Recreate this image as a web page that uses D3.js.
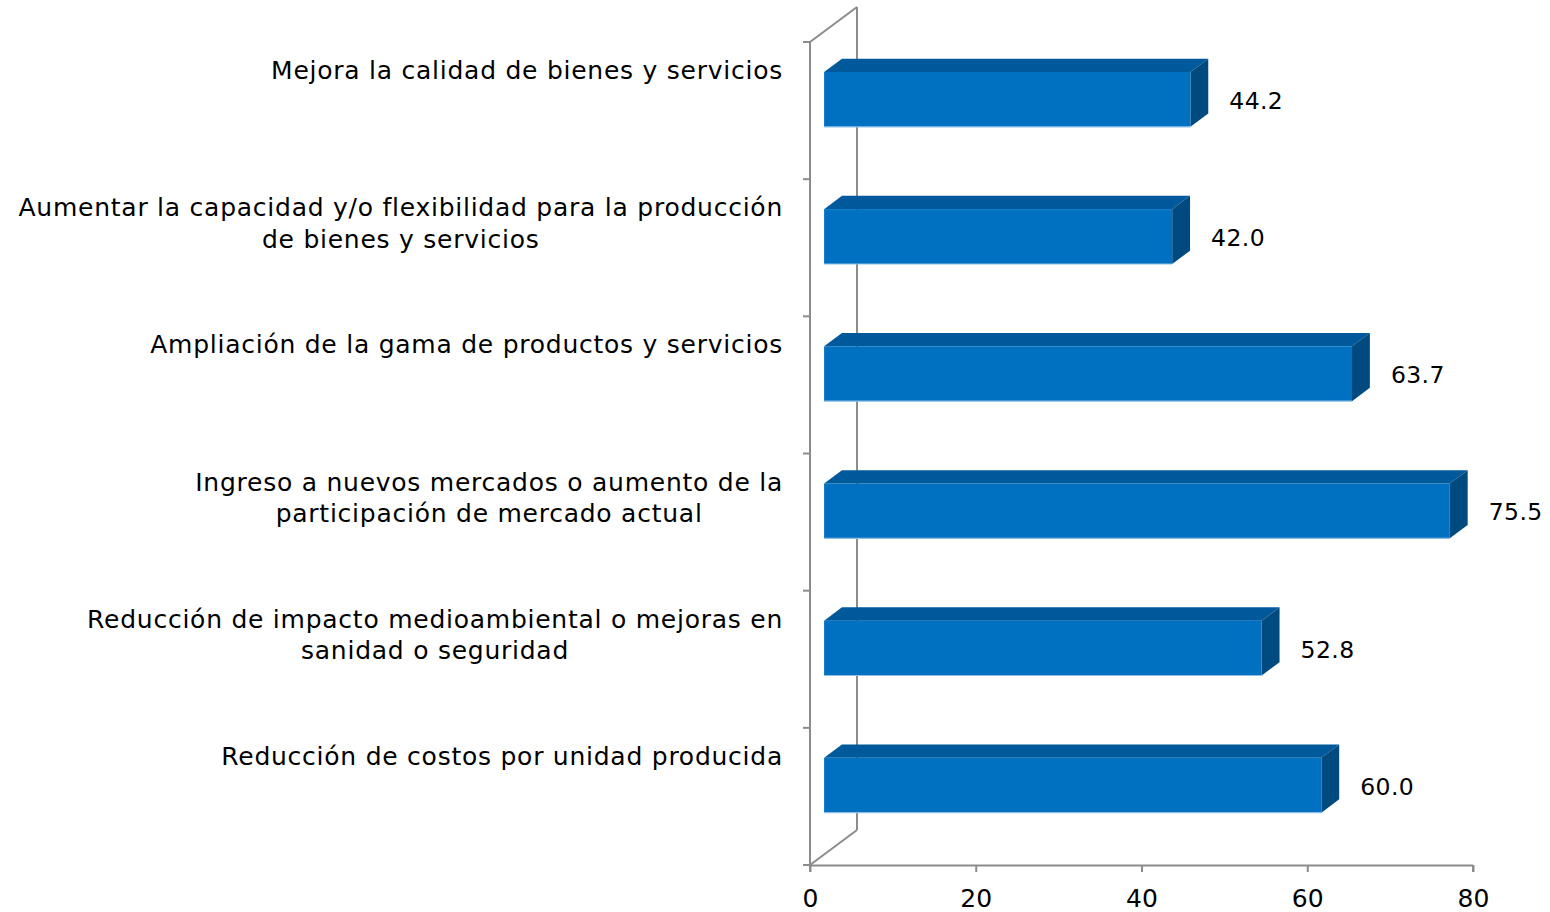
<!DOCTYPE html>
<html><head><meta charset="utf-8">
<script src="https://cdn.jsdelivr.net/npm/d3@7"></script>
<style>body{margin:0;background:#fff}svg{display:block}text{font-family:"DejaVu Sans",Verdana,sans-serif}</style>
</head><body><svg id="c" width="1550" height="912"></svg>
<script>
const categories = [
  "Mejora la calidad de bienes y servicios",
  "Aumentar la capacidad y/o flexibilidad para la producción\nde bienes y servicios",
  "Ampliación de la gama de productos y servicios",
  "Ingreso a nuevos mercados o aumento de la\nparticipación de mercado actual",
  "Reducción de impacto medioambiental o mejoras en\nsanidad o seguridad",
  "Reducción de costos por unidad producida"
];
const values = [44.2, 42.0, 63.7, 75.5, 52.8, 60.0];
const xTicks = [0, 20, 40, 60, 80];

const svg = d3.select("#c");
const x = d3.scaleLinear().domain([0, 80]).range([810, 1473]);
const y = d3.scaleBand().domain(categories).range([42, 865]).paddingInner(0).paddingOuter(0);
const depth = {dx: 47, dy: -35};
const fF = 0.3, fB = 0.68;
const axisColor = "#8c8c8c";

// back wall / 3D frame
const g = svg.append("g");
g.append("line").attr("x1", x(0) + depth.dx).attr("x2", x(0) + depth.dx)
  .attr("y1", 42 + depth.dy).attr("y2", 865 + depth.dy).attr("stroke", axisColor).attr("stroke-width", 2);
g.append("line").attr("x1", x(0)).attr("y1", 42).attr("x2", x(0) + depth.dx).attr("y2", 42 + depth.dy)
  .attr("stroke", axisColor).attr("stroke-width", 2);
g.append("line").attr("x1", x(0)).attr("y1", 865).attr("x2", x(0) + depth.dx).attr("y2", 865 + depth.dy)
  .attr("stroke", axisColor).attr("stroke-width", 2);

// front axes
const xAxis = d3.axisBottom(x).tickValues(xTicks).tickSize(7).tickPadding(17).tickFormat(d3.format("d"));
const xg = svg.append("g").attr("transform", "translate(0,865)").call(xAxis);
xg.select(".domain").attr("stroke", axisColor).attr("stroke-width", 2).attr("d", `M${x(0)},0.5H${x(80)}M${x(0)},0V7M${x(80)},0V7`);
xg.selectAll(".tick line").attr("stroke", axisColor).attr("stroke-width", 2);
xg.selectAll(".tick text").attr("font-size", 25).attr("fill", "#000").attr("font-family", '"DejaVu Sans",Verdana,sans-serif');

// y axis line + ticks
svg.append("line").attr("x1", x(0)).attr("x2", x(0)).attr("y1", 42).attr("y2", 865).attr("stroke", axisColor).attr("stroke-width", 2);
const yTickPos = categories.map(c => y(c)).concat([865]);
svg.selectAll(".ytick").data(yTickPos).join("line").attr("class", "ytick")
  .attr("x1", x(0) - 7).attr("x2", x(0)).attr("y1", d => d).attr("y2", d => d)
  .attr("stroke", axisColor).attr("stroke-width", 2);

// bars
const bw = y.bandwidth();
const barTop = c => y(c) + bw * 0.295;
const barH = bw * 0.40;
const bars = svg.append("g");
categories.forEach((c, i) => {
  const v = values[i];
  const fx = depth.dx * fF, fy = depth.dy * fF;
  const bx = depth.dx * fB, by = depth.dy * fB;
  const x0 = x(0), x1 = x(v);
  const t = barTop(c), b = t + barH;
  bars.append("path").attr("fill", "#00599a")
    .attr("d", `M${x0+fx},${t+fy}L${x0+bx},${t+by}L${x1+bx},${t+by}L${x1+fx},${t+fy}Z`);
  bars.append("path").attr("fill", "#004a80")
    .attr("d", `M${x1+fx},${t+fy}L${x1+bx},${t+by}L${x1+bx},${b+by}L${x1+fx},${b+fy}Z`);
  bars.append("rect").attr("x", x0 + fx).attr("y", t + fy).attr("width", x1 - x0).attr("height", barH)
    .attr("fill", "#0070c0");
  bars.append("line").attr("x1", x0 + fx).attr("x2", x1 + fx).attr("y1", b + fy).attr("y2", b + fy)
    .attr("stroke", "#8fc0e8").attr("stroke-width", 1.2);
  svg.append("text").attr("x", x1 + 53).attr("y", t + fy + barH / 2 + 1).attr("dy", "0.36em")
    .attr("font-size", 23.5).attr("letter-spacing", 0.4).attr("fill", "#000").text(v.toFixed(1));
});

// category labels
const labelRight = 783, lineH = 31.5;
categories.forEach(c => {
  const lines = c.split("\n");
  const tg = svg.append("g");
  const ts = lines.map((l, j) => tg.append("text").attr("font-size", 25).attr("letter-spacing", 0.75).attr("fill", "#000")
    .attr("text-anchor", "middle").attr("y", y(c) + bw * 0.205 + j * lineH).attr("dy", "0.36em").text(l));
  const maxW = d3.max(ts, t => t.node().getComputedTextLength());
  ts.forEach(t => t.attr("x", labelRight - maxW / 2));
});
</script></body></html>
